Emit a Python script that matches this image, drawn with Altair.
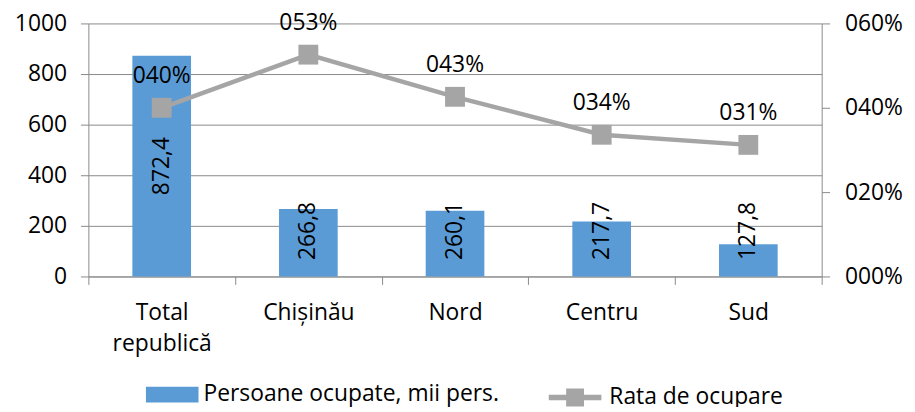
import altair as alt
import pandas as pd

categories = ["Total republică", "Chișinău", "Nord", "Centru", "Sud"]
persons = [872.4, 266.8, 260.1, 217.7, 127.8]
rates = [0.400, 0.526, 0.426, 0.336, 0.312]

bar_name = "Persoane ocupate, mii pers."
line_name = "Rata de ocupare"

BLUE = "#5B9BD5"
GRAY = "#A5A5A5"
GRID = "#8A8A8A"
FONT = "Open Sans"
FS = 23

df = pd.DataFrame({
    "cat": categories,
    "persons": persons,
    "rate": rates,
    "plabel": [f"{v:.1f}".replace(".", ",") for v in persons],
})

bar_legend = alt.Legend(
    orient="none", legendX=58, legendY=347.5, title=None,
    symbolType="M-1,-0.3H1V0.3H-1Z", symbolSize=2809, symbolStrokeWidth=0,
    labelFontSize=FS, labelFont=FONT, labelColor="black", labelOffset=5,
    labelLimit=500, padding=0,
)
line_legend = alt.Legend(
    orient="none", legendX=461, legendY=347.5, title=None,
    symbolType="M-1,0H1M-0.236,-0.236H0.236V0.236H-0.236ZM-0.094,-0.094H0.094V0.094H-0.094Z",
    symbolSize=2809, symbolStrokeWidth=5.5, symbolFillColor=GRAY,
    labelFontSize=FS, labelFont=FONT, labelColor="black", labelOffset=5,
    labelLimit=500, padding=0,
)

x = alt.X(
    "cat:N", sort=categories, title=None,
    scale=alt.Scale(paddingInner=0, paddingOuter=0),
    axis=alt.Axis(
        labelAngle=0, tickBand="extent",
        labelExpr="datum.value == 'Total republică' ? ['Total', 'republică'] : datum.value",
        labelLineHeight=32, labelBaseline="top", labelPadding=17, tickSize=8,
        domainColor=GRID, tickColor=GRID, labelFontSize=FS, labelFont=FONT,
        labelColor="black", grid=False,
    ),
)

yl_scale = alt.Scale(domain=[0, 1000])
yr_scale = alt.Scale(domain=[0, 0.6])

bars = alt.Chart(df).transform_calculate(series=f"'{bar_name}'").mark_bar(
    width=alt.RelativeBandSize(0.4)
).encode(
    x=x,
    y=alt.Y("persons:Q", scale=yl_scale, title=None, axis=alt.Axis(
        values=[0, 200, 400, 600, 800, 1000], format="d", grid=True, gridColor=GRID,
        domainColor=GRID, tickColor=GRID, tickSize=8, labelPadding=14,
        labelFontSize=FS, labelFont=FONT, labelColor="black",
    )),
    fill=alt.Fill("series:N", scale=alt.Scale(domain=[bar_name], range=[BLUE]), legend=bar_legend),
)

bar_text = alt.Chart(df).transform_calculate(
    pos="max(datum.persons / 2, 180)"
).mark_text(angle=270, fontSize=FS, font=FONT, color="black", align="center", baseline="middle").encode(
    x=x,
    y=alt.Y("pos:Q", scale=yl_scale, title=None),
    text="plabel:N",
)

line = alt.Chart(df).transform_calculate(series=f"'{line_name}'").mark_line(strokeWidth=4.5).encode(
    x=x,
    y=alt.Y("rate:Q", scale=yr_scale, title=None, axis=alt.Axis(
        orient="right", format="04.0%", values=[0, 0.2, 0.4, 0.6], grid=False,
        domainColor=GRID, tickColor=GRID, tickSize=8, labelPadding=15,
        labelFontSize=FS, labelFont=FONT, labelColor="black",
    )),
    stroke=alt.Stroke("series:N", scale=alt.Scale(domain=[line_name], range=[GRAY]), legend=line_legend),
)

points = alt.Chart(df).mark_point(shape="square", filled=True, size=400, color=GRAY, opacity=1).encode(
    x=x,
    y=alt.Y("rate:Q", scale=yr_scale),
)

rate_text = alt.Chart(df).mark_text(dy=-32, fontSize=FS, font=FONT, color="black").encode(
    x=x,
    y=alt.Y("rate:Q", scale=yr_scale),
    text=alt.Text("rate:Q", format="04.0%"),
)

chart = alt.layer(
    alt.layer(bars, bar_text),
    alt.layer(line, points, rate_text),
).resolve_scale(y="independent").properties(
    width=739, height=255,
    autosize=alt.AutoSizeParams(type="none"),
    padding={"left": 81, "top": 14, "right": 86, "bottom": 130},
).configure_view(stroke=None)

chart.save("out.html", embed_options={"renderer": "svg", "actions": False})
